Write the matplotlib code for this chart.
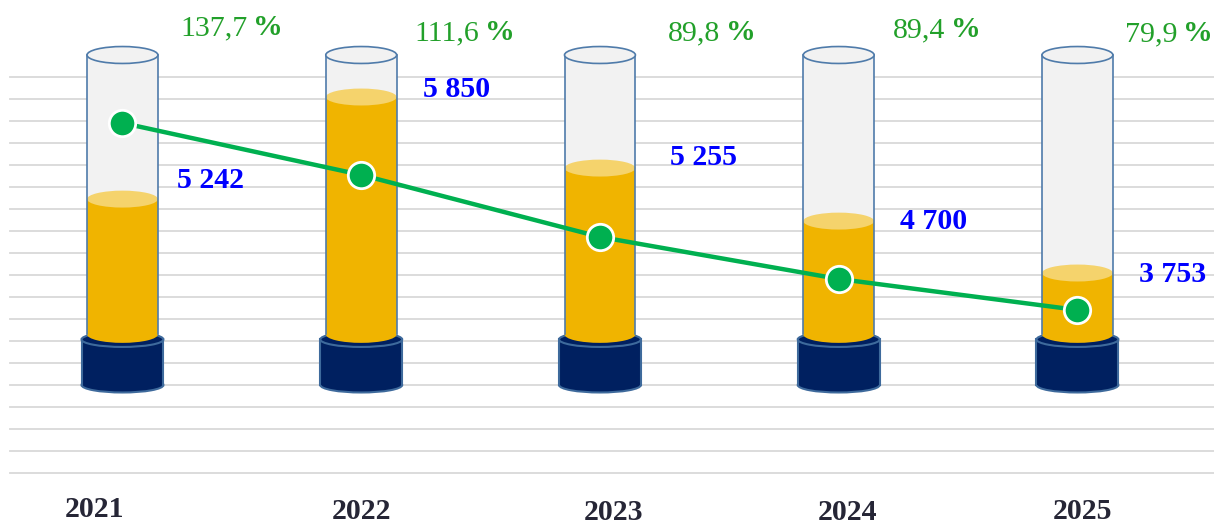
import matplotlib
matplotlib.use("Agg")
import matplotlib.pyplot as plt
from matplotlib.patches import Ellipse, Rectangle

years = ["2021", "2022", "2023", "2024", "2025"]
amounts = ["5 242", "5 850", "5 255", "4 700", "3 753"]
percents = ["137,7", "111,6", "89,8", "89,4", "79,9"]
# tube fill level and green line level, read in gridline steps
fill_levels = [12.45, 17.09, 13.86, 11.45, 9.09]
line_levels = [15.91, 13.55, 10.73, 8.82, 7.41]

N_GRID = 19
GLASS_TOP = 19.0
GLASS_BOT = 6.3
BASE_TOP = 6.07
BASE_BOT = 4.0
GLASS_W = 0.297
BASE_W = 0.343
ELL_H = 0.77
BASE_ELL_H = 0.68

GLASS = "#F2F2F2"
EDGE = "#4F7BAA"
GOLD = "#F0B400"
GOLD_TOP = "#F5D36C"
NAVY = "#002060"
BASE_EDGE = "#3E6A9C"
LINE_GREEN = "#00B050"
TXT_GREEN = "#22A02A"
TXT_BLUE = "#0000FF"
YEAR_COL = "#262636"
FONT = "Liberation Serif"

# label offsets, pixels
pct_dx = [57.5, 53.5, 67.5, 54, 47.5]
pct_dy = [20, 15, 15, 18, 14]
amt_dx = [88.5, 95, 104, 95, 95]
amt_dy = [11, 0, 3, -8, -9]
year_dx = [-27.5, 0.5, 13.5, 9, 5.5]
year_dy = [9, 7, 6, 6, 7]


def draw_tube(ax, x, level):
    # base
    ax.add_patch(Ellipse((x, BASE_BOT), BASE_W, BASE_ELL_H, fc=NAVY, ec=BASE_EDGE, lw=1.5, zorder=2))
    ax.add_patch(Rectangle((x - BASE_W / 2, BASE_BOT), BASE_W, BASE_TOP - BASE_BOT,
                           fc=NAVY, ec="none", zorder=2.1))
    for sx in (x - BASE_W / 2, x + BASE_W / 2):
        ax.plot([sx, sx], [BASE_BOT, BASE_TOP], color=BASE_EDGE, lw=1.5, zorder=2.2)
    ax.add_patch(Ellipse((x, BASE_TOP), BASE_W, BASE_ELL_H, fc=NAVY, ec=BASE_EDGE, lw=1.5, zorder=2.3))
    # glass body
    ax.add_patch(Rectangle((x - GLASS_W / 2, GLASS_BOT), GLASS_W, GLASS_TOP - GLASS_BOT,
                           fc=GLASS, ec="none", zorder=3))
    # gold fill
    ax.add_patch(Ellipse((x, GLASS_BOT), GLASS_W, ELL_H, fc=GOLD, ec="none", zorder=3.1))
    ax.add_patch(Rectangle((x - GLASS_W / 2, GLASS_BOT), GLASS_W, level - GLASS_BOT,
                           fc=GOLD, ec="none", zorder=3.2))
    ax.add_patch(Ellipse((x, level), GLASS_W, ELL_H, fc=GOLD_TOP, ec="none", zorder=3.3))
    for sx in (x - GLASS_W / 2, x + GLASS_W / 2):
        ax.plot([sx, sx], [GLASS_BOT, GLASS_TOP], color=EDGE, lw=1.2, zorder=3.4)
    ax.add_patch(Ellipse((x, GLASS_TOP), GLASS_W, ELL_H, fc=GLASS, ec=EDGE, lw=1.2, zorder=3.5))


def main():
    fig = plt.figure(figsize=(12.14, 5.26), dpi=100)
    ax = fig.add_axes([0, 0, 1, 1])
    ax.set_xlim(-0.513, 4.572)
    ax.set_ylim(-2.409, 21.5)
    ax.axis("off")

    for g in range(N_GRID):
        ax.axhline(g, xmin=0.008, xmax=1, color="#D9D9D9", lw=1.3, zorder=1)

    xs = list(range(len(years)))
    for x, level in zip(xs, fill_levels):
        draw_tube(ax, x, level)

    ax.plot(xs, line_levels, color=LINE_GREEN, lw=3.2, marker="o", markersize=19,
            markerfacecolor=LINE_GREEN, markeredgecolor="white", markeredgewidth=2, zorder=5)

    for i in xs:
        t = ax.annotate(percents[i], xy=(i, GLASS_TOP), xytext=(pct_dx[i], pct_dy[i]),
                        textcoords="offset pixels", ha="left", va="baseline",
                        fontsize=21.5, family=FONT, color=TXT_GREEN, zorder=6)
        ax.annotate("%", xy=(1, 0), xycoords=t, xytext=(6, 0), textcoords="offset pixels",
                    ha="left", va="bottom", fontsize=21.5, family=FONT, fontweight="bold",
                    color=TXT_GREEN, zorder=6)
        ax.annotate(amounts[i], xy=(i, fill_levels[i]), xytext=(amt_dx[i], amt_dy[i]),
                    textcoords="offset pixels", ha="center", va="baseline",
                    fontsize=21.5, family=FONT, fontweight="bold", color=TXT_BLUE, zorder=6)
        ax.annotate(years[i], xy=(i, -2.409), xytext=(year_dx[i], year_dy[i]),
                    textcoords="offset pixels", ha="center", va="baseline",
                    fontsize=21.5, family=FONT, fontweight="bold", color=YEAR_COL, zorder=6)

    fig.savefig("out.png", dpi=100)


if __name__ == "__main__":
    main()
